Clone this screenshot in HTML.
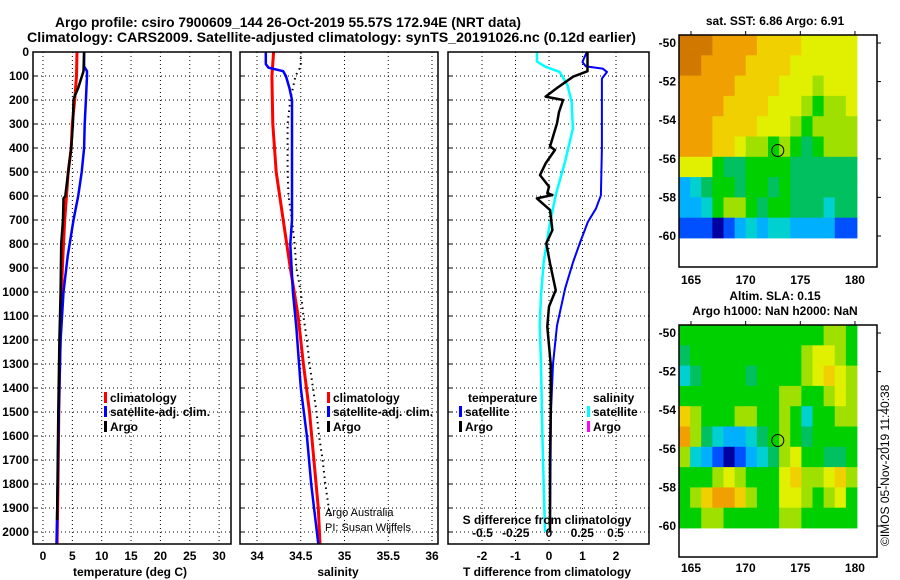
<!DOCTYPE html>
<html><head><meta charset="utf-8">
<style>
html,body{margin:0;padding:0;background:#fff;}
svg{display:block;font-family:"Liberation Sans",sans-serif;font-weight:bold;}
</style></head>
<body>
<svg id="c" width="900" height="580" viewBox="0 0 900 580" xmlns="http://www.w3.org/2000/svg">
<text x="55" y="27" font-size="14" textLength="466" lengthAdjust="spacingAndGlyphs">Argo profile: csiro 7900609_144 26-Oct-2019 55.57S 172.94E (NRT data)</text>
<text x="27" y="42" font-size="14" textLength="609" lengthAdjust="spacingAndGlyphs">Climatology: CARS2009. Satellite-adjusted climatology: synTS_20191026.nc (0.12d earlier)</text>
<text x="775" y="25" font-size="12" text-anchor="middle">sat. SST: 6.86 Argo: 6.91</text>
<text x="775" y="300" font-size="12" text-anchor="middle">Altim. SLA: 0.15</text>
<text x="775" y="315" font-size="12" text-anchor="middle">Argo h1000: NaN h2000: NaN</text>
<text transform="translate(889,546) rotate(-90)" font-size="12" font-weight="normal">©IMOS 05-Nov-2019 11:40:38</text>
</svg>
<script>
// ---- data ----
var depthTicks=[0,100,200,300,400,500,600,700,800,900,1000,1100,1200,1300,1400,1500,1600,1700,1800,1900,2000];
var tTicks=[0,5,10,15,20,25,30];
var sTicks=[34,34.5,35,35.5,36];
var sTickLabels=["34","34.5","35","35.5","36"];
var dTTicks=[-2,-1,0,1,2];
var dSTicks=[-0.5,-0.25,0,0.25,0.5];
var dSTickLabels=["-0.5","-0.25","0","0.25","0.5"];

var tClimDepth=[0,100,200,300,400,500,600,700,800,900,1100,1300,1500,1800,2050];
var tClimVal=[5.8,5.7,5.4,5.0,4.8,4.3,4.0,3.7,3.5,3.3,3.0,2.85,2.7,2.55,2.4];
var tSatDepth=[0,60,80,100,200,300,400,500,600,700,850,1000,1200,1500,1800,2050];
var tSatVal=[7.0,7.0,7.5,7.5,7.3,7.1,7.0,6.6,6.0,5.2,4.2,3.5,3.0,2.7,2.5,2.3];
var tArgoDepth=[0,80,110,150,190,200,300,400,500,600,610,700,800,1000,1200,1500,1950];
var tArgoVal=[7.0,6.9,6.5,6.0,5.3,5.2,5.1,4.8,4.3,3.8,3.5,3.4,3.1,3.0,2.8,2.6,2.4];

var sClimDepth=[0,100,300,500,700,900,1100,1300,1500,1700,1900,2050];
var sClimVal=[34.19,34.17,34.18,34.22,34.3,34.38,34.47,34.53,34.6,34.65,34.7,34.72];
var sSatDepth=[0,50,65,80,100,150,200,300,500,700,800,1000,1150,1400,1600,1800,2050];
var sSatVal=[34.1,34.1,34.13,34.3,34.33,34.37,34.4,34.4,34.4,34.4,34.38,34.41,34.45,34.5,34.57,34.62,34.7];
var sArgoDepth=[0,60,100,200,300,400,500,600,700,800,900,1000,1100,1200,1300,1400,1500,1600,1700,1800,1900,1950];
var sArgoVal=[34.5,34.5,34.44,34.38,34.35,34.35,34.35,34.36,34.4,34.43,34.45,34.5,34.53,34.57,34.6,34.64,34.68,34.71,34.75,34.78,34.82,34.84];

var dTArgoDepth=[0,80,103,150,186,200,250,297,394,408,464,513,561,589,596,610,658,742,797,880,992,1061,1144,1300,1500,1700,2000];
var dTArgoVal=[1.15,1.15,0.72,0.24,-0.1,0.42,0.3,0.24,0.03,0.18,-0.1,-0.27,0.0,-0.05,0.1,-0.36,0.03,0.1,-0.08,0.03,0.2,0.0,-0.05,0.05,0.05,0.03,0.03];
var dTSatDepth=[0,28,42,60,69,83,111,200,400,597,653,708,792,875,986,1140,1300,1500,2000];
var dTSatVal=[1.13,1.04,1.0,1.1,1.6,1.73,1.58,1.58,1.58,1.55,1.4,1.16,0.93,0.72,0.48,0.24,0.12,0.06,0.03];
var dSSatDepth=[0,40,61,83,139,208,319,458,597,736,875,1014,1140,1300,1600,2000];
var dSSatVal=[-0.09,-0.09,-0.03,0.08,0.14,0.17,0.18,0.12,0.05,0.0,-0.04,-0.06,-0.07,-0.06,-0.05,-0.03];

var lonTicks=[165,170,175,180];
var latTicks=[-50,-52,-54,-56,-58,-60];
var palette=["#0000a0","#0050ff","#00b0ff","#00d0d0","#00c060","#00d000","#a0e000","#e0f000","#f0d000","#f0a000","#d07800"];
var sstGrid=[
[10,10,10,9,9,9,9,8,8,8,8,7,7,7,7,7],
[10,10,9,9,9,9,8,8,8,8,7,7,7,7,7,7],
[9,9,9,9,9,8,8,8,8,7,7,7,6,7,7,7],
[9,9,9,9,8,8,8,8,7,7,7,6,5,6,6,7],
[9,9,9,8,8,8,8,7,7,7,6,5,6,6,6,6],
[9,9,9,8,8,7,6,6,5,6,5,4,5,6,6,6],
[7,7,7,5,4,4,5,5,5,5,4,4,4,4,4,4],
[2,3,4,5,5,4,5,5,4,5,4,4,4,4,4,4],
[2,2,3,5,6,6,5,4,5,5,4,4,4,3,4,4],
[1,1,1,0,1,2,3,2,3,3,2,2,2,2,1,1]];
var slaGrid=[
[5,5,5,5,5,5,5,5,5,5,5,5,5,6,6,5],
[4,5,5,5,5,5,5,5,5,5,5,6,7,7,6,5],
[3,4,5,5,5,5,4,5,5,5,5,6,7,8,7,6],
[5,5,5,5,5,5,5,5,5,6,6,5,5,6,7,6],
[8,6,5,5,5,6,6,5,5,6,5,3,5,5,6,6],
[9,6,4,3,2,2,3,4,5,6,5,4,5,5,5,5],
[6,3,2,1,0,1,2,3,4,6,7,5,5,4,4,5],
[5,5,5,6,7,6,5,5,5,7,8,6,6,7,8,6],
[5,6,8,9,9,8,6,5,5,7,7,6,5,6,7,5],
[5,5,6,6,5,5,5,5,5,6,6,5,5,5,5,5]];
var argoLon=172.94, argoLat=-55.57;

// ---- drawing ----
var svg=document.getElementById('c');
var NS='http://www.w3.org/2000/svg';
function mk(tag,at,parent){var e=document.createElementNS(NS,tag);for(var k in at)e.setAttribute(k,at[k]);(parent||svg).appendChild(e);return e;}
function yD(d){return 52+d*0.24;}
var pTop=52,pBot=544;
var panels=[{l:33,r:231},{l:240,r:438},{l:448,r:649}];
function xT(v){return 43+v*5.87;}
function xS(v){return 257+(v-34)*87.5;}
function xdT(v){return 549+v*33.5;}
function xdS(v){return 549+v*133;}

function grid(p,xs,fn,name){
  var g=mk('g',{});
  
  
  for(var i=1;i<depthTicks.length;i++){var y=yD(depthTicks[i]);
    mk('line',{x1:p.l,x2:p.r,y1:y,y2:y,stroke:'#000','stroke-dasharray':'1,3','stroke-width':1},g);
    mk('line',{x1:p.l,x2:p.l+4,y1:y,y2:y,stroke:'#000'},g);}
  xs.forEach(function(v){var x=fn(v);
    mk('line',{x1:x,x2:x,y1:pTop,y2:pBot,stroke:'#000','stroke-dasharray':'1,3','stroke-width':1},g);});
}
grid(panels[0],tTicks,xT,'temperature-grid');
grid(panels[1],sTicks,xS,'salinity-grid');
grid(panels[2],dTTicks,xdT,'difference-grid');

function line(ds,vs,fn,color,w,name,dash){
  var pts=ds.map(function(d,i){return fn(vs[i]).toFixed(1)+','+yD(d).toFixed(1);}).join(' ');
  var at={points:pts,fill:'none',stroke:color,'stroke-width':w,'stroke-linejoin':'round'};
  if(dash)at['stroke-dasharray']=dash;
  var e=mk('polyline',at);
  
  
}
line(tClimDepth,tClimVal,xT,'#ff0000',3,'temperature-climatology-line');
line(tSatDepth,tSatVal,xT,'#0000ff',2.5,'temperature-satellite-line');
line(tArgoDepth,tArgoVal,xT,'#000',2.5,'temperature-argo-line');
line(sArgoDepth,sArgoVal,xS,'#000',2,'salinity-argo-line','1.5,4');
line(sClimDepth,sClimVal,xS,'#ff0000',3,'salinity-climatology-line');
line(sSatDepth,sSatVal,xS,'#0000ff',2.5,'salinity-satellite-line');
line(dSSatDepth,dSSatVal,xdS,'#00ffff',2.5,'salinity-diff-satellite-line');
line(dTSatDepth,dTSatVal,xdT,'#0000ff',2,'temperature-diff-satellite-line');
line(dTArgoDepth,dTArgoVal,xdT,'#000',2.5,'temperature-diff-argo-line');

panels.forEach(function(p,i){var r=mk('rect',{x:p.l,y:pTop,width:p.r-p.l,height:pBot-pTop,fill:'none',stroke:'#000','stroke-width':1.5});
  
  });

function txt(x,y,s,size,anchor,name){var t=mk('text',{x:x,y:y,'font-size':size,'text-anchor':anchor||'start'});t.textContent=s;
  
  return t;}
depthTicks.forEach(function(d){txt(29,yD(d)+4,String(d),12,'end','depth-tick-label');});
tTicks.forEach(function(v){txt(xT(v),560,String(v),12,'middle','temperature-tick-label');});
sTicks.forEach(function(v,i){txt(xS(v),560,sTickLabels[i],12,'middle','salinity-tick-label');});
dTTicks.forEach(function(v){txt(xdT(v),560,String(v),12,'middle','temperature-diff-tick-label');});
dSTicks.forEach(function(v,i){txt(xdS(v),537,dSTickLabels[i],12,'middle','salinity-diff-tick-label');});
txt(130,576,'temperature (deg C)',12,'middle','temperature-axis-title');
txt(338,576,'salinity',12,'middle','salinity-axis-title');
txt(547,576,'T difference from climatology',12,'middle','temperature-diff-axis-title');
txt(547,524,'S difference from climatology',12,'middle','salinity-diff-axis-title');
txt(325,516,'Argo Australia',11,'start','credit-argo-australia').setAttribute('font-weight','normal');
txt(325,531,'PI: Susan Wijffels',11,'start','credit-pi').setAttribute('font-weight','normal');

function leg(x,y,color,label,name){
  var r=mk('rect',{x:x,y:y-10,width:3,height:11,fill:color});
  
  
  txt(x+6,y,label,12,'start',name);
}
leg(104,402,'#ff0000','climatology','legend-climatology');
leg(104,416,'#0000ff','satellite-adj. clim.','legend-satellite');
leg(104,431,'#000','Argo','legend-argo');
leg(327,402,'#ff0000','climatology','legend-sal-climatology');
leg(327,416,'#0000ff','satellite-adj. clim.','legend-sal-satellite');
leg(327,431,'#000','Argo','legend-sal-argo');
txt(468,402,'temperature',12,'start','legend-temperature-header');
leg(459,416,'#0000ff','satellite','legend-diff-t-satellite');
leg(459,431,'#000','Argo','legend-diff-t-argo');
txt(593,402,'salinity',12,'start','legend-salinity-header');
leg(587,416,'#00ffff','satellite','legend-diff-s-satellite');
leg(587,431,'#ff00ff','Argo','legend-diff-s-argo');

// maps
function map(gridv,fy,name,lat50,lat60,dTop,dBot,lonLabelY){
  var L=679,R=857,fR=877,fB=fy+232;
  var xL=function(lon){return 691+(lon-165)*10.93;};
  var yL=function(lat){return lat50+(-50-lat)*(lat60-lat50)/10;};
  var rows=gridv.length,cols=gridv[0].length,cw=(R-L)/cols,ch=(dBot-dTop)/rows;
  var g=mk('g',{});
  
  
  gridv.forEach(function(row,i){row.forEach(function(v,j){
    var c=mk('rect',{x:(L+j*cw).toFixed(2),y:(dTop+i*ch).toFixed(2),width:(cw+0.4).toFixed(2),height:(ch+0.4).toFixed(2),fill:palette[v]},g);
    
    
  });});
  var ci=mk('circle',{cx:xL(argoLon),cy:yL(argoLat),r:6,fill:'none',stroke:'#000','stroke-width':1});
  
  
  var f=mk('rect',{x:L,y:fy,width:fR-L,height:fB-fy,fill:'none',stroke:'#000','stroke-width':1.5});
  
  
  lonTicks.forEach(function(v){var x=xL(v);
    mk('line',{x1:x,x2:x,y1:fy,y2:fy-4,stroke:'#000'});
    txt(x,lonLabelY,String(v),12,'middle',name+'-lon-label');});
  latTicks.forEach(function(v){var y=yL(v);
    mk('line',{x1:fR,x2:fR+4,y1:y,y2:y,stroke:'#000'});
    txt(676,y+4,String(v),12,'end',name+'-lat-label');});
}
map(sstGrid,35,'sst-map',43,236,35,238,284);
map(slaGrid,325,'sla-map',333,526,325,528,572);
</script>
</body></html>
